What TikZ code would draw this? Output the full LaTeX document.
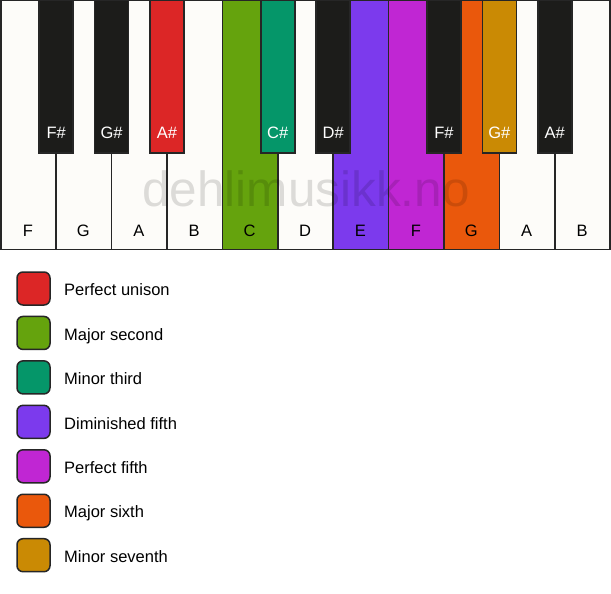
\documentclass[tikz,border=0pt]{standalone}
\usepackage{fontspec}
\setmainfont{Liberation Sans}
\definecolor{keyline}{HTML}{262626}
\definecolor{ivory}{HTML}{FDFCF9}
\definecolor{ebony}{HTML}{1C1C1A}
\definecolor{cRed}{HTML}{DC2626}
\definecolor{cLime}{HTML}{65A30D}
\definecolor{cTeal}{HTML}{059669}
\definecolor{cViolet}{HTML}{7C3AED}
\definecolor{cFuchsia}{HTML}{C026D3}
\definecolor{cOrange}{HTML}{EA580C}
\definecolor{cGold}{HTML}{CA8A04}
\tikzset{
  whitekey/.style={draw=keyline, line width=1.5pt, fill=ivory, minimum width=55.4pt, minimum height=248.5pt, anchor=north west, inner sep=0pt, outer sep=0pt},
  blackkey/.style={draw=keyline, line width=1.5pt, fill=ebony, minimum width=34pt, minimum height=152pt, anchor=north, inner sep=0pt, outer sep=0pt},
  wlabel/.style={font=\fontsize{16.5}{19}\selectfont, text=black, inner sep=0pt, anchor=base},
  blabel/.style={font=\fontsize{16.5}{19}\selectfont, text=white, inner sep=0pt, anchor=base},
  swatch/.style={draw=keyline, line width=1.5pt, rounded corners=6pt, minimum width=33pt, minimum height=33pt, inner sep=0pt},
  legtext/.style={font=\fontsize{16.5}{19}\selectfont, anchor=base west, inner sep=0pt},
}
\begin{document}
\begin{tikzpicture}[x=1pt, y=-1pt]
\useasboundingbox (0,0) rectangle (611,594);
\fill[white] (0,0) rectangle (611,594);
% white keys
\foreach \i/\n/\c in {0/F/ivory,1/G/ivory,2/A/ivory,3/B/ivory,4/C/cLime,5/D/ivory,6/E/cViolet,7/F/cFuchsia,8/G/cOrange,9/A/ivory,10/B/ivory}{
  \node[whitekey, fill=\c] (w\i) at ({0.75+55.4*\i},0.75) {};
  \node[wlabel] (wl\i) at ({28+55.4*\i},236) {\n};
}
% black keys
\foreach \j/\n/\c in {1/F\#/ebony,2/G\#/ebony,3/A\#/cRed,5/C\#/cTeal,6/D\#/ebony,8/F\#/ebony,9/G\#/cGold,10/A\#/ebony}{
  \node[blackkey, fill=\c] (b\j) at ({0.75+55.4*\j},0.75) {};
  \node[blabel] (bl\j) at ({0.75+55.4*\j},139) {\n};
}
% watermark
\node[font=\fontsize{49.5}{52}\selectfont, text=black, text opacity=0.13, inner sep=0pt, anchor=base] (wm) at (306,206.5) {dehlimusikk.no};
% legend
\foreach \k/\c/\t in {0/cRed/Perfect unison,1/cLime/Major second,2/cTeal/Minor third,3/cViolet/Diminished fifth,4/cFuchsia/Perfect fifth,5/cOrange/Major sixth,6/cGold/Minor seventh}{
  \node[swatch, fill=\c] (s\k) at (33.5,{288.5+44.45*\k}) {};
  \node[legtext] (t\k) at (64,{295.7+44.45*\k}) {\t};
}
\end{tikzpicture}
\end{document}
